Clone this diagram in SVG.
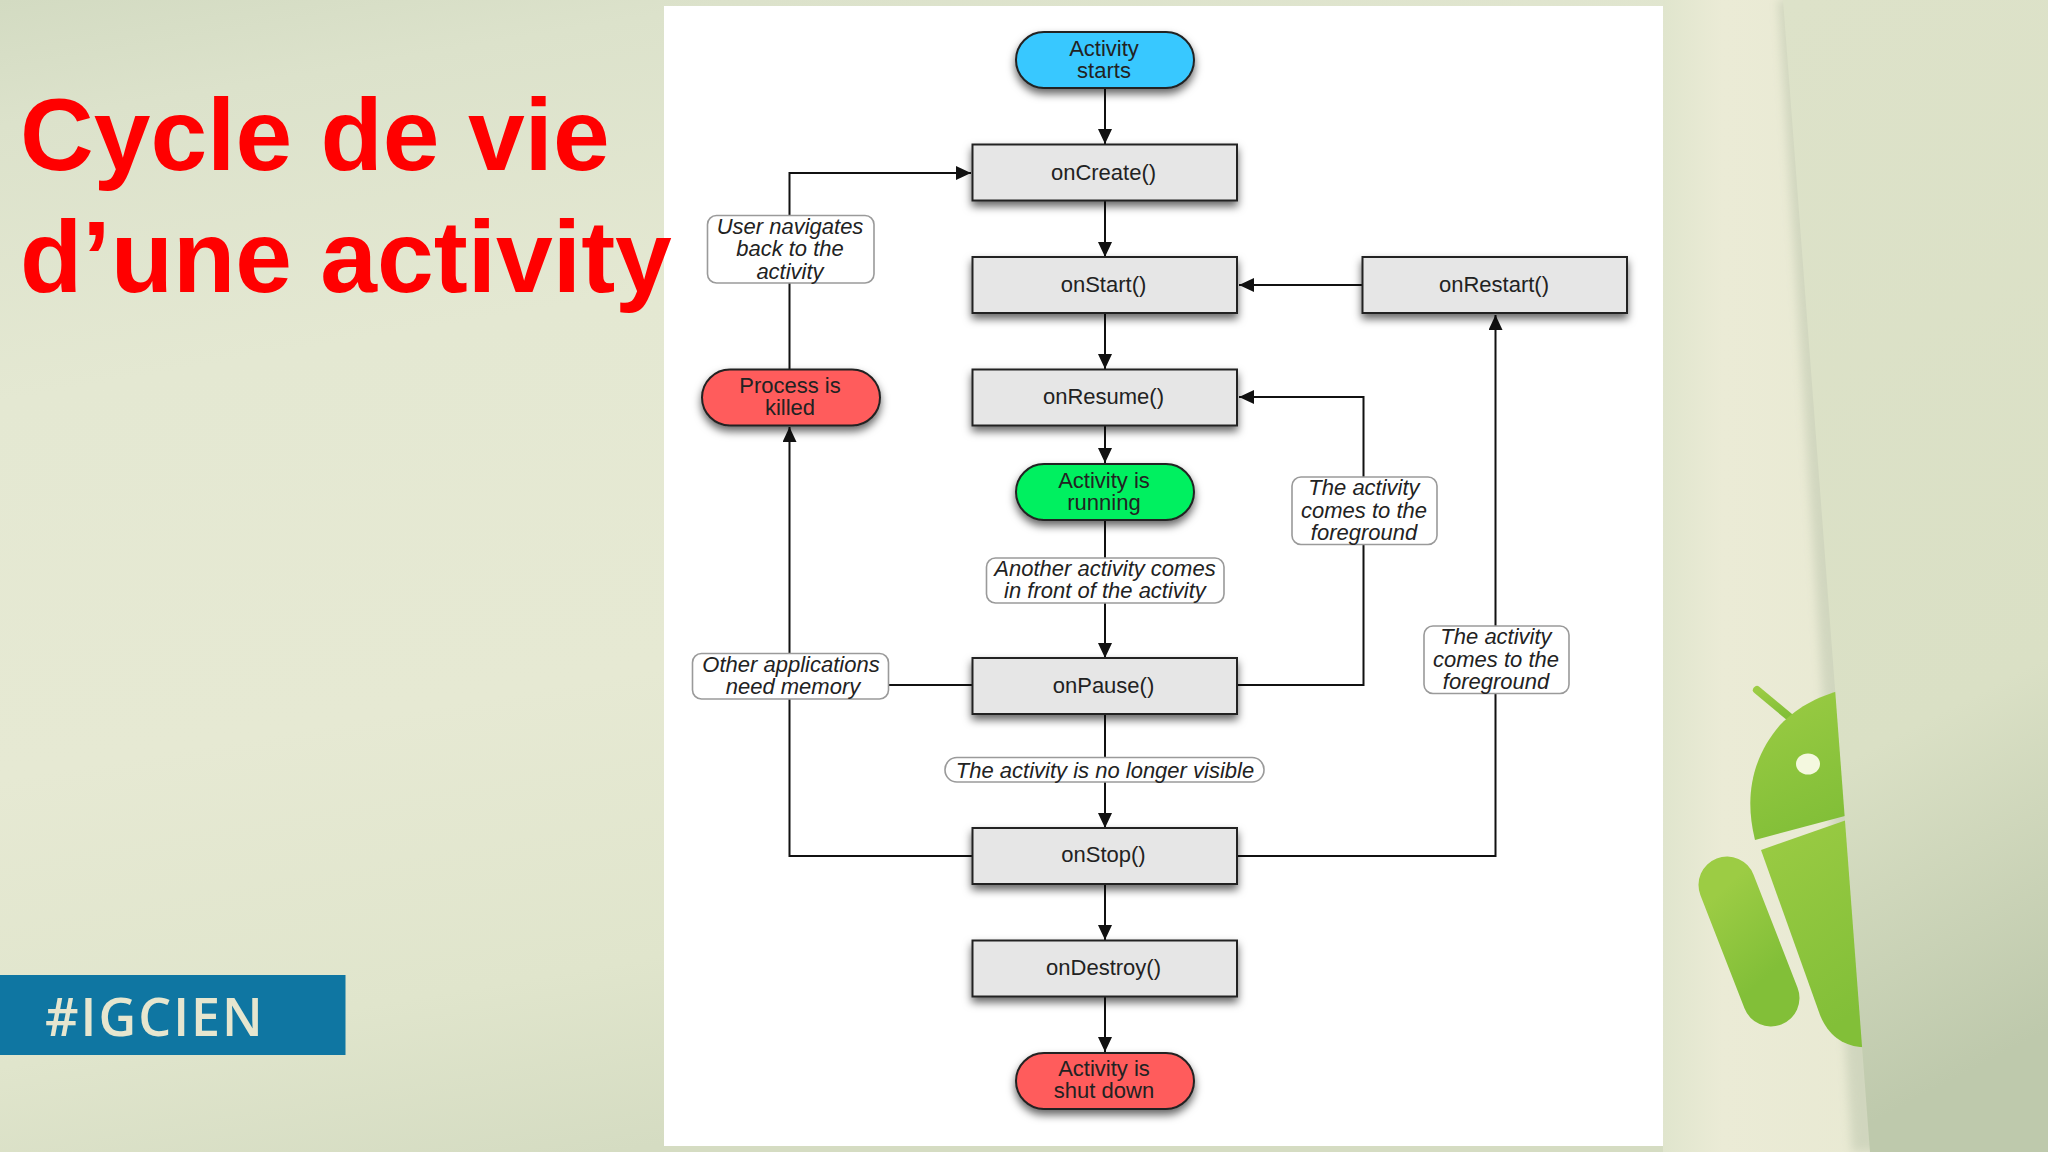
<svg xmlns="http://www.w3.org/2000/svg" width="2048" height="1152" viewBox="0 0 2048 1152">
<defs>
<linearGradient id="bg" x1="0" y1="0" x2="0.3" y2="1"><stop offset="0" stop-color="#d3dbc2"/><stop offset="0.1" stop-color="#dce2cb"/><stop offset="0.32" stop-color="#e4e8d2"/><stop offset="0.62" stop-color="#e6e9d3"/><stop offset="0.85" stop-color="#e0e5cc"/><stop offset="1" stop-color="#d5dcc2"/></linearGradient>
<linearGradient id="fold" x1="0" y1="0" x2="0.12" y2="1"><stop offset="0" stop-color="#dde2c9"/><stop offset="0.68" stop-color="#dae0c5"/><stop offset="1" stop-color="#bec9ac"/></linearGradient>
<linearGradient id="strip" x1="0" y1="0" x2="1" y2="0" gradientUnits="objectBoundingBox"><stop offset="0" stop-color="#e0e5cd"/><stop offset="0.25" stop-color="#ebebd6"/><stop offset="1" stop-color="#e8e9d2"/></linearGradient>
<linearGradient id="droid" x1="0" y1="0" x2="0.35" y2="1"><stop offset="0" stop-color="#9ccc44"/><stop offset="1" stop-color="#82bf38"/></linearGradient>
<filter id="sh" x="-15%" y="-30%" width="130%" height="180%"><feDropShadow dx="0" dy="5" stdDeviation="4" flood-color="#000" flood-opacity="0.6"/></filter>
<filter id="bl" x="-200%" y="-5%" width="500%" height="110%"><feGaussianBlur stdDeviation="5"/></filter>
<marker id="ah" markerUnits="userSpaceOnUse" markerWidth="15" markerHeight="14" refX="15" refY="7" orient="auto"><path d="M0 0L15 7L0 14Z" fill="#111"/></marker>
</defs>
<style>
text{font-family:"Liberation Sans",Arial,sans-serif;font-size:22px;fill:#222;text-anchor:middle}
.box{fill:#e6e6e6;stroke:#222;stroke-width:2;filter:url(#sh)}
.pill{stroke:#222;stroke-width:2;filter:url(#sh)}
.lab{fill:#fff;stroke:#9a9a9a;stroke-width:1.6}
.lt{font-style:italic}
.c{fill:none;stroke:#111;stroke-width:2}
.a{marker-end:url(#ah)}
.ttl{font-size:102px;font-weight:bold;fill:#f00;text-anchor:start}
</style>
<g id="background">
<rect width="2048" height="1152" fill="url(#bg)"/>
<rect x="1663" width="240" height="1152" fill="url(#strip)"/>
<path d="M1778 0L1796 0L1880 1152L1852 1152Z" fill="#b4bfa6" opacity="0.45" filter="url(#bl)"/>
</g>
<g id="android">
<path d="M1757 690L1793 720" stroke="url(#droid)" stroke-width="8" stroke-linecap="round" fill="none"/>
<path d="M1755 840C1745 800 1750 760 1780 725C1800 705 1820 695 1850 688L1860 812Z" fill="url(#droid)"/>
<path d="M1761 850L1858 816L1880 1048L1860 1047C1842 1045 1828 1035 1820 1015Z" fill="url(#droid)"/>
<path d="M1727 885L1771 998" stroke="url(#droid)" stroke-width="57" stroke-linecap="round" fill="none"/>
<ellipse cx="1808" cy="764" rx="12" ry="10.5" fill="#f4f8df"/>
</g>
<g id="foldpanel">
<path d="M1783 0L2048 0L2048 1152L1870 1152Z" fill="url(#fold)"/>
</g>
<rect id="panel" x="664" y="6" width="999" height="1140" fill="#fff"/>
<g id="title">
<text class="ttl" x="20" y="170">Cycle de vie</text>
<text class="ttl" x="20" y="292">d’une activity</text>
</g>
<g id="tag">
<rect y="975" width="345.500" height="80" fill="#0f76a2"/>
<text x="45" y="1036" style='font-family:"Open Sans",sans-serif;font-size:52px;font-weight:600;letter-spacing:2px;fill:#e6e6cf;text-anchor:start'>#IGCIEN</text>
</g>
<g id="connectors">
<path class="c a" d="M1105 88V144"/>
<path class="c a" d="M1105 201V257"/>
<path class="c a" d="M1105 313V369"/>
<path class="c a" d="M1105 425V463"/>
<path class="c a" d="M1105 521V658"/>
<path class="c a" d="M1105 714V828"/>
<path class="c a" d="M1105 884V940"/>
<path class="c a" d="M1105 996V1052"/>
<path class="c a" d="M1362 285H1239"/>
<path class="c a" d="M1237 685H1363.500V397H1239"/>
<path class="c a" d="M1237 856H1495.500V315"/>
<path class="c a" d="M972 856H789.500V427"/>
<path class="c" d="M972 685H789.500"/>
<path class="c a" d="M789.500 369V173H971"/>
</g>
<g id="n-start"><rect class="pill" x="1016" y="32" width="178" height="56" rx="28" fill="#38c8ff"/><text x="1104" y="56">Activity</text><text x="1104" y="78">starts</text></g>
<g id="n-create"><rect class="box" x="972.500" y="144.500" width="264.500" height="56"/><text x="1103.500" y="180">onCreate()</text></g>
<g id="n-startfn"><rect class="box" x="972.500" y="257" width="264.500" height="56"/><text x="1103.500" y="292">onStart()</text></g>
<g id="n-restart"><rect class="box" x="1362.500" y="257" width="264.500" height="56"/><text x="1494" y="292">onRestart()</text></g>
<g id="n-resume"><rect class="box" x="972.500" y="369.500" width="264.500" height="56"/><text x="1103.500" y="404">onResume()</text></g>
<g id="n-running"><rect class="pill" x="1016" y="464" width="178" height="56" rx="28" fill="#00f060"/><text x="1104" y="488">Activity is</text><text x="1104" y="510">running</text></g>
<g id="n-pause"><rect class="box" x="972.500" y="658" width="264.500" height="56"/><text x="1103.500" y="693">onPause()</text></g>
<g id="n-stop"><rect class="box" x="972.500" y="828" width="264.500" height="56"/><text x="1103.500" y="862">onStop()</text></g>
<g id="n-destroy"><rect class="box" x="972.500" y="940.500" width="264.500" height="56"/><text x="1103.500" y="975">onDestroy()</text></g>
<g id="n-shutdown"><rect class="pill" x="1016" y="1053" width="178" height="56" rx="28" fill="#ff5b5b"/><text x="1104" y="1076">Activity is</text><text x="1104" y="1098">shut down</text></g>
<g id="n-killed"><rect class="pill" x="702" y="369.500" width="178" height="56" rx="28" fill="#ff5b5b"/><text x="790" y="393">Process is</text><text x="790" y="415">killed</text></g>
<g id="l-back"><rect class="lab" x="707.500" y="215.500" width="166.500" height="67.500" rx="9"/><text class="lt" x="790" y="234">User navigates</text><text class="lt" x="790" y="256">back to the</text><text class="lt" x="790" y="279">activity</text></g>
<g id="l-memory"><rect class="lab" x="692.500" y="653.500" width="196" height="45.500" rx="9"/><text class="lt" x="791" y="672">Other applications</text><text class="lt" x="793" y="694">need memory</text></g>
<g id="l-front"><rect class="lab" x="986.500" y="558" width="237.500" height="45" rx="9"/><text class="lt" x="1105" y="576">Another activity comes</text><text class="lt" x="1105" y="598">in front of the activity</text></g>
<g id="l-fg1"><rect class="lab" x="1292" y="477" width="145" height="67.500" rx="9"/><text class="lt" x="1364" y="495">The activity</text><text class="lt" x="1364" y="518">comes to the</text><text class="lt" x="1364" y="540">foreground</text></g>
<g id="l-fg2"><rect class="lab" x="1424" y="626" width="145" height="67.500" rx="9"/><text class="lt" x="1496" y="644">The activity</text><text class="lt" x="1496" y="667">comes to the</text><text class="lt" x="1496" y="689">foreground</text></g>
<g id="l-visible"><rect class="lab" x="945" y="757.500" width="319" height="24.500" rx="12"/><text class="lt" x="1105" y="778">The activity is no longer visible</text></g>
</svg>
